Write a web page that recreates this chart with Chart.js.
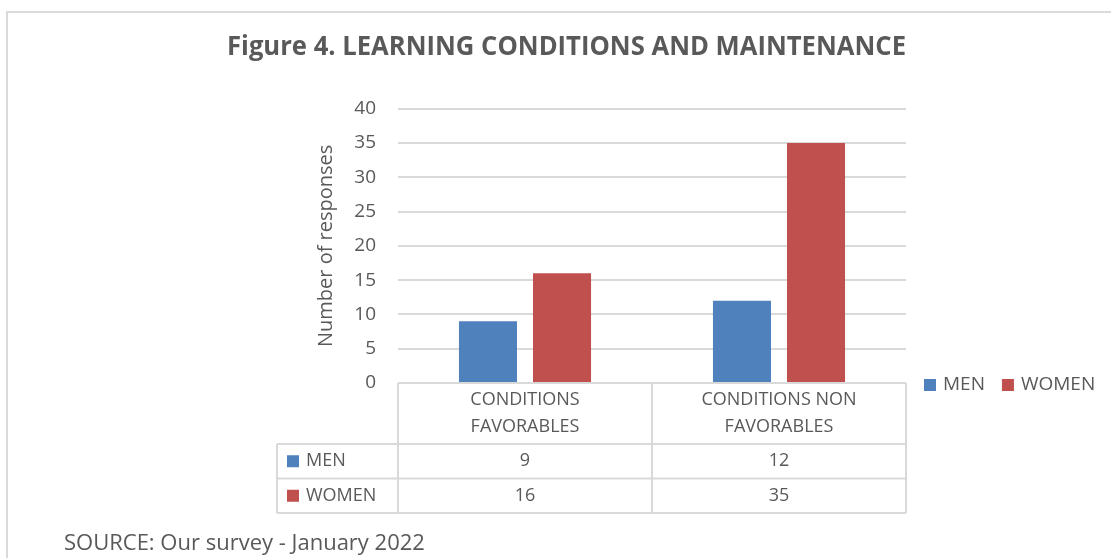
<!DOCTYPE html>
<html>
<head>
<meta charset="utf-8">
<script src="https://cdn.jsdelivr.net/npm/chart.js@4"></script>
<style>
  html, body { margin: 0; padding: 0; background: #fff; }
  #wrap { position: relative; width: 1111px; height: 558px; }
</style>
</head>
<body>
<div id="wrap"><canvas id="learningChart" width="1111" height="558"></canvas></div>
<script>
// categories (multi-line as shown in the table header)
var categories = [['CONDITIONS', 'FAVORABLES'], ['CONDITIONS NON', 'FAVORABLES']];
var seriesNames = ['MEN', 'WOMEN'];
var menValues = [9, 12];
var womenValues = [16, 35];
var yTicks = [0, 5, 10, 15, 20, 25, 30, 35, 40];

var blue = 'rgb(79, 129, 189)';
var red = 'rgb(192, 80, 77)';
var textGray = '#595959';
var lineGray = '#d9d9d9';
var fontName = '"Open Sans", sans-serif';

// draws the outer frame, data table, legend and source line
var extrasPlugin = {
    id: 'extras',
    beforeDraw: function (chart) {
        var ctx = chart.ctx;
        ctx.save();
        ctx.strokeStyle = lineGray;
        ctx.lineWidth = 2;
        ctx.strokeRect(7, 12, 1300, 700);
        ctx.restore();
    },
    afterDraw: function (chart) {
        var ctx = chart.ctx;
        var area = chart.chartArea;
        var x = chart.scales.x;
        var sets = chart.data.datasets;
        var headBottom = area.bottom + 61;
        var rowH = 34.5;
        var labelLeft = area.left - 121;
        var tableBottom = headBottom + rowH * sets.length;

        ctx.save();
        ctx.strokeStyle = lineGray;
        ctx.lineWidth = 2;
        ctx.beginPath();
        // top of table (axis line)
        ctx.moveTo(area.left, area.bottom);
        ctx.lineTo(area.right, area.bottom);
        // row lines
        for (var r = 0; r <= sets.length; r++) {
            var yy = headBottom + r * rowH;
            ctx.moveTo(labelLeft, yy);
            ctx.lineTo(area.right, yy);
        }
        // column lines
        var colW = (area.right - area.left) / x.ticks.length;
        for (var c = 0; c <= x.ticks.length; c++) {
            var xx = area.left + c * colW;
            ctx.moveTo(xx, area.bottom);
            ctx.lineTo(xx, tableBottom);
        }
        ctx.moveTo(labelLeft, headBottom);
        ctx.lineTo(labelLeft, tableBottom);
        ctx.stroke();

        // row labels and values
        ctx.font = '18px ' + fontName;
        ctx.textBaseline = 'middle';
        sets.forEach(function (ds, r) {
            var cy = headBottom + r * rowH + rowH / 2;
            ctx.fillStyle = ds.backgroundColor;
            ctx.fillRect(labelLeft + 10, cy - 6, 12, 12);
            ctx.fillStyle = textGray;
            ctx.textAlign = 'left';
            ctx.fillText(ds.label, labelLeft + 29, cy);
            ctx.textAlign = 'center';
            ds.data.forEach(function (v, i) {
                ctx.fillText(String(v), x.getPixelForValue(i), cy);
            });
        });

        // legend to the right of the axis
        var lx = area.right + 18;
        var ly = area.bottom + 2;
        ctx.font = '19px ' + fontName;
        ctx.textAlign = 'left';
        sets.forEach(function (ds) {
            ctx.fillStyle = ds.backgroundColor;
            ctx.fillRect(lx, ly - 6, 12, 12);
            ctx.fillStyle = textGray;
            ctx.fillText(ds.label, lx + 19, ly);
            lx += 19 + ctx.measureText(ds.label).width + 17;
        });

        // source note
        ctx.font = '22px ' + fontName;
        ctx.fillStyle = textGray;
        ctx.fillText('SOURCE: Our survey - January 2022', 64, 544);
        ctx.restore();
    }
};

var ctx = document.getElementById('learningChart').getContext('2d');
var learningChart = new Chart(ctx, {
    type: 'bar',
    data: {
        labels: categories,
        datasets: [{
            label: seriesNames[0],
            data: menValues,
            backgroundColor: blue
        }, {
            label: seriesNames[1],
            data: womenValues,
            backgroundColor: red
        }]
    },
    options: {
        responsive: false,
        animation: false,
        categoryPercentage: 0.583,
        barPercentage: 0.784,
        layout: {
            padding: { left: 227, right: 205, top: 20, bottom: 115 }
        },
        plugins: {
            legend: { display: false },
            tooltip: { enabled: false },
            title: {
                display: true,
                text: 'Figure 4. LEARNING CONDITIONS AND MAINTENANCE',
                color: textGray,
                font: { family: fontName, size: 26, weight: 'bold' },
                padding: { top: 12, bottom: 45.5 }
            }
        },
        scales: {
            x: {
                grid: { display: false, drawTicks: false },
                border: { display: false },
                ticks: {
                    color: textGray,
                    font: { family: fontName, size: 18, lineHeight: 1.5 },
                    padding: 3,
                    maxRotation: 0
                }
            },
            y: {
                min: 0,
                max: 40,
                afterBuildTicks: function (scale) {
                    scale.ticks = yTicks.map(function (v) { return { value: v }; });
                },
                afterFit: function (scale) { scale.width = 171; },
                grid: { color: lineGray, lineWidth: 2, drawTicks: false },
                border: { display: false },
                ticks: {
                    color: textGray,
                    font: { family: fontName, size: 19 },
                    padding: 22
                },
                title: {
                    display: true,
                    text: 'Number of responses',
                    color: textGray,
                    font: { family: fontName, size: 20 },
                    padding: { top: 87, bottom: 0 }
                }
            }
        }
    },
    plugins: [extrasPlugin]
});
</script>
</body>
</html>
